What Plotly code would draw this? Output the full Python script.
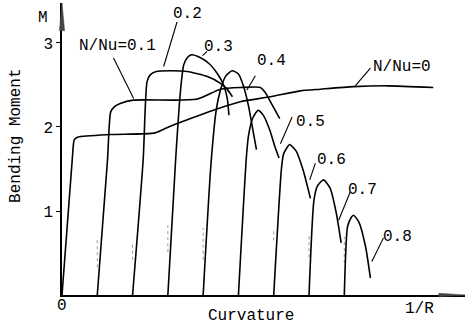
import plotly.graph_objects as go

# ---- data (curvature in arbitrary units, each curve offset by one unit) ----
series_names = ["N/Nu=0", "0.1", "0.2", "0.3", "0.4", "0.5", "0.6", "0.7", "0.8"]

curv_0 = [0.0, 0.29, 0.35, 0.46, 1.37, 2.64, 3.07, 3.64, 4.29, 5.05, 5.90, 6.75, 7.32, 8.26, 9.22, 10.52]
mom_0 = [0.0, 1.61, 1.85, 1.88, 1.91, 1.93, 2.01, 2.10, 2.20, 2.30, 2.36, 2.43, 2.45, 2.48, 2.49, 2.47]

curv_1 = [1.0, 1.29, 1.38, 1.48, 1.65, 2.02, 3.81, 4.49, 5.05, 5.62, 5.76, 5.96, 6.17]
mom_1 = [0.0, 1.61, 2.18, 2.24, 2.28, 2.32, 2.33, 2.45, 2.47, 2.47, 2.41, 2.26, 2.10]

curv_2 = [2.0, 2.30, 2.41, 2.50, 2.67, 3.07, 3.55, 4.12, 4.49, 4.66, 4.83]
mom_2 = [0.0, 1.61, 2.54, 2.62, 2.66, 2.67, 2.66, 2.60, 2.52, 2.46, 2.36]

curv_3 = [3.0, 3.22, 3.36, 3.45, 3.56, 3.67, 3.90, 4.18, 4.41, 4.58, 4.69, 4.73]
mom_3 = [0.0, 1.61, 2.44, 2.74, 2.83, 2.86, 2.83, 2.75, 2.63, 2.50, 2.32, 2.14]

curv_4 = [4.0, 4.22, 4.37, 4.49, 4.63, 4.82, 5.00, 5.14, 5.28, 5.42, 5.51]
mom_4 = [0.0, 1.55, 2.20, 2.44, 2.60, 2.67, 2.63, 2.49, 2.26, 1.94, 1.73]

curv_5 = [5.0, 5.23, 5.29, 5.41, 5.56, 5.72, 5.89, 6.03, 6.15]
mom_5 = [0.0, 1.67, 1.91, 2.11, 2.20, 2.13, 1.96, 1.77, 1.63]

curv_6 = [6.0, 6.22, 6.28, 6.45, 6.64, 6.83, 7.04]
mom_6 = [0.0, 1.51, 1.68, 1.79, 1.71, 1.49, 1.15]

curv_7 = [7.0, 7.14, 7.24, 7.41, 7.60, 7.77, 7.91]
mom_7 = [0.0, 1.13, 1.30, 1.37, 1.27, 0.98, 0.62]

curv_8 = [8.0, 8.09, 8.19, 8.26, 8.41, 8.60, 8.74]
mom_8 = [0.0, 0.81, 0.92, 0.95, 0.87, 0.58, 0.20]

curves_x = [curv_0, curv_1, curv_2, curv_3, curv_4, curv_5, curv_6, curv_7, curv_8]
curves_y = [mom_0, mom_1, mom_2, mom_3, mom_4, mom_5, mom_6, mom_7, mom_8]

# faint dashed verticals at the origins of several curves
dash_x = [1.0, 2.0, 3.0, 4.0, 6.0, 7.0, 8.0]
dash_lo = [0.33, 0.42, 0.51, 0.42, 0.65, 0.45, 0.38]
dash_hi = [0.68, 0.63, 0.83, 0.80, 0.77, 0.74, 0.69]

# labels: text, text position, leader line start/end
label_text = ["N/Nu=0.1", "0.2", "0.3", "0.4", "N/Nu=0", "0.5", "0.6", "0.7", "0.8"]
label_x = [1.57, 3.55, 4.44, 5.93, 9.64, 7.04, 7.63, 8.51, 9.50]
label_y = [2.97, 3.34, 2.95, 2.79, 2.71, 2.06, 1.61, 1.25, 0.69]
leader_x0 = [1.46, 3.26, 4.11, 5.48, 8.74, 6.52, 7.18, 8.17, 9.11]
leader_y0 = [2.82, 3.25, 2.90, 2.61, 2.70, 2.12, 1.57, 1.23, 0.68]
leader_x1 = [2.03, 2.88, 3.98, 5.24, 8.31, 6.19, 7.02, 7.84, 8.78]
leader_y1 = [2.34, 2.72, 2.85, 2.44, 2.49, 1.80, 1.37, 0.89, 0.40]

y_ticks = [1, 2, 3]
x_tick_vals = [0, 10.12]
x_tick_text = ["0", "1/R"]
x_tick_shift = [-11, -14]

FONT = "Liberation Mono, Courier New, monospace"

fig = go.Figure()

for xs, lo, hi in zip(dash_x, dash_lo, dash_hi):
    fig.add_trace(go.Scatter(x=[xs, xs], y=[lo, hi], mode="lines",
                             line=dict(color="#9a9a9a", width=1, dash="dot"),
                             showlegend=False, hoverinfo="skip"))

for name, xs, ys in zip(series_names, curves_x, curves_y):
    fig.add_trace(go.Scatter(x=xs, y=ys, mode="lines", name=name,
                             line=dict(color="black", width=1.6, shape="spline", smoothing=0.6),
                             showlegend=False))

for x0, y0, x1, y1 in zip(leader_x0, leader_y0, leader_x1, leader_y1):
    fig.add_trace(go.Scatter(x=[x0, x1], y=[y0, y1], mode="lines",
                             line=dict(color="black", width=1.1),
                             showlegend=False, hoverinfo="skip"))

for t, x, y in zip(label_text, label_x, label_y):
    fig.add_annotation(x=x, y=y, text=t, showarrow=False,
                       font=dict(family=FONT, size=16, color="black"),
                       xanchor="center", yanchor="middle")

# x-axis tick labels
for v, t, s in zip(x_tick_vals, x_tick_text, x_tick_shift):
    fig.add_annotation(x=v, xref="x", yref="paper", y=0, yshift=s, text=t,
                       showarrow=False, xanchor="center", yanchor="middle",
                       font=dict(family=FONT, size=16, color="black"))

# axis titles
fig.add_annotation(xref="paper", yref="paper", x=-0.047, y=1.0, yshift=-15, text="M",
                   showarrow=False, xanchor="center", yanchor="middle",
                   font=dict(family=FONT, size=16, color="black"))
fig.add_annotation(xref="paper", yref="paper", x=-0.114, y=0.545, text="Bending Moment",
                   textangle=-90, showarrow=False, xanchor="center", yanchor="middle",
                   font=dict(family=FONT, size=16, color="black"))
fig.add_annotation(xref="paper", yref="paper", x=0.47, y=0, yshift=-21, text="Curvature",
                   showarrow=False, xanchor="center", yanchor="middle",
                   font=dict(family=FONT, size=16, color="black"))

# axis end arrows
fig.add_shape(type="path", xref="paper", yref="paper",
              path="M -0.0065 0.905 L 0 1.0 L 0.0065 0.905 Z",
              fillcolor="#444", line=dict(color="#444", width=0.5))
fig.add_shape(type="path", xref="paper", yref="paper",
              path="M 0.935 0.0062 L 1.0 0 L 0.935 -0.0062 Z",
              fillcolor="#444", line=dict(color="#444", width=0.5))

fig.update_layout(
    width=466, height=327,
    margin=dict(l=62, r=1, t=3, b=32),
    paper_bgcolor="white", plot_bgcolor="white",
    font=dict(family=FONT, size=16, color="black"),
    xaxis=dict(range=[0, 11.42], showgrid=False, zeroline=False, showline=True,
               linecolor="black", linewidth=1.5, ticks="", showticklabels=False),
    yaxis=dict(range=[0, 3.476], showgrid=False, zeroline=False, showline=True,
               linecolor="black", linewidth=1.5, ticks="outside", ticklen=4,
               tickcolor="black", tickvals=y_ticks,
               tickfont=dict(family=FONT, size=16)),
)

fig.write_html("out.html")
